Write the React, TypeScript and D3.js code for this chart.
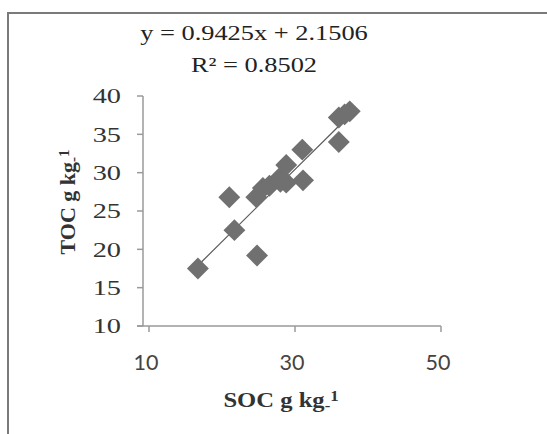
import React, { useEffect, useRef } from "react";
import * as d3 from "d3";

const socValues = [16.7, 21.0, 21.7, 24.8, 24.7, 25.6, 26.5, 27.9, 28.8, 28.8, 28.0, 31.0, 31.1, 36.0, 36.0, 37.5, 36.8];
const tocValues = [17.5, 26.8, 22.5, 19.2, 26.8, 28.0, 28.3, 29.3, 31.0, 28.7, 28.8, 33.0, 29.0, 34.0, 37.2, 38.0, 37.6];
const xTicks = [10, 30, 50];
const yTicks = [10, 15, 20, 25, 30, 35, 40];
const slope = 0.9425;
const intercept = 2.1506;
const equationText = "y = 0.9425x + 2.1506";
const r2Label = "R² = 0.8502";

export default function App() {
  const ref = useRef<SVGSVGElement>(null);

  useEffect(() => {
    const svg = d3.select(ref.current);
    svg.selectAll("*").remove();

    const x = d3.scaleLinear().domain([10, 50]).range([149, 441]);
    const y = d3.scaleLinear().domain([10, 40]).range([326, 96]);
    const axisX = 143;
    const axisColor = "#9a9a9a";

    svg.append("rect").attr("x", 0).attr("y", 0).attr("width", 547).attr("height", 434).attr("fill", "#fff");
    // outer frame
    svg.append("rect").attr("x", 8).attr("y", 13).attr("width", 600).attr("height", 500)
      .attr("fill", "none").attr("stroke", "#7a7a7a").attr("stroke-width", 2);

    // y axis
    svg.append("line").attr("x1", axisX).attr("x2", axisX).attr("y1", y(40)).attr("y2", y(10))
      .attr("stroke", axisColor).attr("stroke-width", 1.5);
    yTicks.forEach((t) => {
      svg.append("line").attr("x1", axisX - 6).attr("x2", axisX).attr("y1", y(t)).attr("y2", y(t))
        .attr("stroke", axisColor).attr("stroke-width", 1.5);
      svg.append("text").attr("transform", `translate(121,${y(t)}) scale(1.35,1)`).attr("dy", "0.35em")
        .attr("text-anchor", "end").attr("font-family", "Liberation Serif").attr("font-size", 21)
        .attr("fill", "#333").text(String(t));
    });

    // x axis
    svg.append("line").attr("x1", axisX - 6).attr("x2", x(50)).attr("y1", y(10)).attr("y2", y(10))
      .attr("stroke", axisColor).attr("stroke-width", 1.5);
    xTicks.forEach((t) => {
      svg.append("line").attr("x1", x(t)).attr("x2", x(t)).attr("y1", y(10)).attr("y2", y(10) + 6)
        .attr("stroke", axisColor).attr("stroke-width", 1.5);
      svg.append("text").attr("x", x(t) - 3).attr("y", 370)
        .attr("text-anchor", "middle").attr("font-family", "Lato").attr("font-size", 21.5)
        .attr("fill", "#444").text(String(t));
    });

    // trendline
    const xMin = d3.min(socValues)!;
    const xMax = d3.max(socValues)!;
    svg.append("line")
      .attr("x1", x(xMin)).attr("y1", y(slope * xMin + intercept))
      .attr("x2", x(xMax)).attr("y2", y(slope * xMax + intercept))
      .attr("stroke", "#5a5a5a").attr("stroke-width", 1.2);

    // points
    const diamond = d3.symbol().type(d3.symbolSquare).size(240);
    svg.append("g").selectAll("path").data(socValues.map((s, i) => [s, tocValues[i]]))
      .enter().append("path")
      .attr("d", diamond as any)
      .attr("transform", (d) => `translate(${x(d[0])},${y(d[1])}) rotate(45)`)
      .attr("fill", "#707070");

    // equation
    svg.append("text").attr("transform", "translate(254,40) scale(1.2,1)").attr("text-anchor", "middle")
      .attr("font-family", "Liberation Serif").attr("font-size", 22).attr("fill", "#222").text(equationText);
    svg.append("text").attr("transform", "translate(254,72) scale(1.2,1)").attr("text-anchor", "middle")
      .attr("font-family", "Liberation Serif").attr("font-size", 22).attr("fill", "#222").text(r2Label);

    // x title
    const xt = svg.append("text").attr("transform", "translate(281,407) scale(1.12,1)").attr("text-anchor", "middle")
      .attr("font-family", "Liberation Serif").attr("font-size", 22).attr("font-weight", "bold").attr("fill", "#333");
    xt.append("tspan").text("SOC g kg");
    xt.append("tspan").attr("font-size", 15).attr("dy", 3).text("-");
    xt.append("tspan").attr("font-size", 15).attr("dy", -9).text("1");

    // y title
    const yt = svg.append("text").attr("transform", "translate(75,202) rotate(-90)").attr("text-anchor", "middle")
      .attr("font-family", "Liberation Serif").attr("font-size", 22).attr("font-weight", "bold").attr("fill", "#333");
    yt.append("tspan").text("TOC g kg");
    yt.append("tspan").attr("font-size", 15).attr("dy", 3).text("-");
    yt.append("tspan").attr("font-size", 15).attr("dy", -9).text("1");
  }, []);

  return (
    <svg ref={ref} width={547} height={434} style={{ position: "absolute", left: 0, top: 0 }} />
  );
}
